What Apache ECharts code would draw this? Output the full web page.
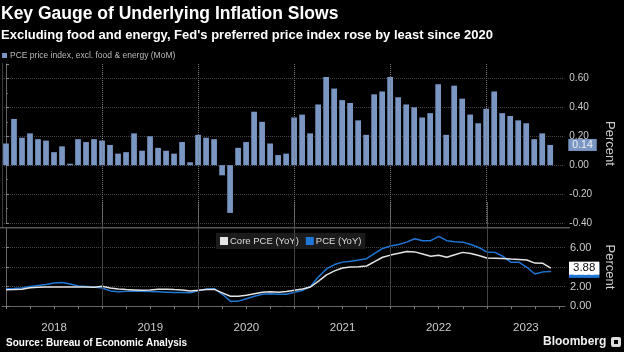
<!DOCTYPE html>
<html>
<head>
<meta charset="utf-8">
<script src="https://cdn.jsdelivr.net/npm/echarts@6/dist/echarts.min.js"></script>
<style>
  html, body { margin: 0; padding: 0; background: #000; }
  #chart { width: 624px; height: 352px; }
</style>
</head>
<body>
<div id="chart"></div>
<script>
// monthly points, Dec 2017 .. Aug 2023 (index 0 = Dec 2017)
const years = ['2018', '2019', '2020', '2021', '2022', '2023']

const coreMoM = [
  0.15, 0.32, 0.19, 0.22, 0.18, 0.17, 0.09, 0.13, 0.01, 0.18, 0.16, 0.18,
  0.17, 0.14, 0.08, 0.09, 0.22, 0.10, 0.20, 0.12, 0.10, 0.08, 0.16, 0.02,
  0.21, 0.19, 0.18, -0.07, -0.33, 0.12, 0.16, 0.37, 0.30, 0.15, 0.07, 0.08,
  0.33, 0.35, 0.22, 0.42, 0.61, 0.53, 0.45, 0.43, 0.31, 0.21, 0.49, 0.51,
  0.61, 0.47, 0.42, 0.40, 0.33, 0.36, 0.56, 0.21, 0.55, 0.46, 0.35, 0.29,
  0.39, 0.51, 0.36, 0.34, 0.31, 0.29, 0.18, 0.22, 0.14
]

const coreYoY = [
  1.67, 1.68, 1.72, 1.88, 1.92, 1.95, 1.95, 1.96, 1.96, 1.95, 1.95, 1.93, 2.02,
  1.85, 1.75, 1.68, 1.65, 1.62, 1.65, 1.72, 1.72, 1.68, 1.65, 1.55, 1.62,
  1.70, 1.70, 1.35, 1.00, 1.00, 1.10, 1.25, 1.40, 1.45, 1.42, 1.48, 1.62,
  1.75, 1.95, 2.55, 3.20, 3.60, 3.90, 4.00, 4.02, 4.10, 4.55, 5.00, 5.22,
  5.40, 5.60, 5.55, 5.33, 5.10, 5.20, 5.00, 5.25, 5.50, 5.38, 5.18, 4.92,
  4.90, 4.87, 4.82, 4.78, 4.72, 4.40, 4.38, 3.88
]

const pceYoY = [
  1.78, 1.80, 1.85, 2.00, 2.10, 2.20, 2.35, 2.40, 2.25, 2.05, 2.00, 1.95, 1.85,
  1.55, 1.45, 1.50, 1.55, 1.52, 1.48, 1.45, 1.42, 1.38, 1.38, 1.35, 1.55,
  1.75, 1.78, 1.20, 0.50, 0.50, 0.75, 1.00, 1.20, 1.25, 1.20, 1.20, 1.40,
  1.60, 2.00, 3.00, 3.80, 4.25, 4.50, 4.60, 4.72, 4.85, 5.40, 5.90, 6.15,
  6.30, 6.55, 6.90, 6.70, 6.70, 7.15, 6.70, 6.60, 6.55, 6.30, 6.00, 5.55,
  5.50, 5.10, 4.50, 4.50, 3.97, 3.28, 3.50, 3.55
]

const momName = 'PCE price index, excl. food & energy (MoM)'
const coreName = 'Core PCE (YoY)'
const pceName = 'PCE (YoY)'

// x axis runs in month steps, a little past the last point
const xMin = -0.5
const xMax = 69.76
const font = 'Liberation Sans'
const hidden = { color: 'rgba(0,0,0,0)', width: 0 }

const toPoints = arr => arr.map((v, i) => [i, v])
const yearStarts = years.slice(1).map((y, k) => (k + 1) * 12)
const yearMids = years.map((y, k) => (k * 12 + Math.min(k * 12 + 12, xMax)) / 2)
const quarterTicks = []
for (let i = 0; i <= xMax; i += 3) quarterTicks.push(i)

const valueTag = (bg, fg, size) => ({
  show: true, position: 'end', distance: 4,
  formatter: p => p.value.toFixed(2),
  backgroundColor: bg, color: fg,
  fontFamily: font, fontSize: size, padding: [1, 4, 0, 4]
})

const chart = echarts.init(document.getElementById('chart'))

const option = {
  backgroundColor: '#000',
  animation: false,
  title: [
    {
      text: 'Key Gauge of Underlying Inflation Slows',
      left: 1, top: 6, padding: 0,
      textStyle: { color: '#fff', fontFamily: font, fontWeight: 'bold', fontSize: 17.5, lineHeight: 17 }
    },
    {
      text: "Excluding food and energy, Fed's preferred price index rose by least since 2020",
      left: 1, top: 29, padding: 0,
      textStyle: { color: '#fff', fontFamily: font, fontWeight: 'bold', fontSize: 13, lineHeight: 13 }
    },
    {
      text: 'Source: Bureau of Economic Analysis',
      left: 6, top: 338, padding: 0,
      textStyle: { color: '#fff', fontFamily: font, fontWeight: 'bold', fontSize: 10, lineHeight: 10 }
    },
    {
      text: 'Bloomberg',
      left: 543, top: 335, padding: 0,
      textStyle: { color: '#eee', fontFamily: font, fontWeight: 'bold', fontSize: 12, lineHeight: 13 }
    }
  ],
  legend: [
    {
      data: [momName],
      left: 2, top: 51, padding: 0,
      icon: 'rect', itemWidth: 5, itemHeight: 5, itemGap: 3,
      textStyle: { color: '#bbb', fontFamily: font, fontSize: 8.5, padding: [0, 0, 0, -2] }
    },
    {
      data: [coreName, pceName],
      left: 216, top: 233, padding: [3, 4],
      backgroundColor: '#1b1b1b',
      icon: 'rect', itemWidth: 8, itemHeight: 8, itemGap: 7,
      textStyle: { color: '#ddd', fontFamily: font, fontSize: 9.5, padding: [0, 0, 0, -3] }
    }
  ],
  grid: [
    { left: 2, right: 54, top: 64, height: 159 },
    { left: 2, right: 54, top: 228, height: 78 }
  ],
  xAxis: [
    {
      gridIndex: 0, type: 'value', min: xMin, max: xMax,
      axisLine: { show: false }, axisTick: { show: false },
      axisLabel: { show: false }, splitLine: { show: false }
    },
    {
      gridIndex: 1, type: 'value', min: xMin, max: xMax,
      axisLine: { show: true, lineStyle: { color: '#666' } },
      axisTick: { show: true, customValues: quarterTicks, length: 3, lineStyle: { color: '#777' } },
      axisLabel: {
        customValues: yearMids,
        formatter: v => years[yearMids.indexOf(v)] || '',
        color: '#ccc', fontFamily: font, fontSize: 11.5, margin: 16
      },
      splitLine: { show: false }
    },
    {
      gridIndex: 1, type: 'value', min: xMin, max: xMax,
      axisLine: { show: false },
      axisTick: { show: true, customValues: yearStarts, length: 26, lineStyle: { color: '#555' } },
      axisLabel: { show: false }, splitLine: { show: false }
    }
  ],
  yAxis: [
    {
      gridIndex: 0, type: 'value', position: 'right',
      min: -0.4, max: 0.7, interval: 0.2,
      axisLine: { show: true, lineStyle: { color: '#666' } },
      axisTick: { show: true, length: 3, lineStyle: { color: '#888' } },
      minorTick: { show: true, splitNumber: 2, length: 2, lineStyle: { color: '#666' } },
      axisLabel: {
        color: '#ccc', fontFamily: font, fontSize: 10, margin: 5,
        showMaxLabel: false, formatter: v => v.toFixed(2)
      },
      splitLine: { showMaxLine: false, lineStyle: { color: '#444', type: 'dotted' } },
      name: 'Percent', nameLocation: 'middle', nameRotate: -90, nameGap: 38,
      nameTextStyle: { color: '#ccc', fontFamily: font, fontSize: 13 }
    },
    {
      gridIndex: 1, type: 'value', position: 'right',
      min: 0, max: 8, interval: 2,
      axisLine: { show: true, lineStyle: { color: '#666' } },
      axisTick: { show: true, length: 3, lineStyle: { color: '#888' } },
      axisLabel: {
        color: '#ccc', fontFamily: font, fontSize: 11, margin: 5,
        showMaxLabel: false, formatter: v => v.toFixed(2)
      },
      splitLine: { showMaxLine: false, lineStyle: { color: '#444', type: 'dotted' } },
      name: 'Percent', nameLocation: 'middle', nameRotate: -90, nameGap: 38,
      nameTextStyle: { color: '#ccc', fontFamily: font, fontSize: 13 }
    }
  ],
  series: [
    {
      name: momName,
      type: 'bar',
      xAxisIndex: 0, yAxisIndex: 0,
      barWidth: 5.7,
      itemStyle: { color: '#7a97c4' },
      data: toPoints(coreMoM),
      markLine: {
        silent: true, symbol: ['none', 'none'],
        label: { show: false },
        lineStyle: { color: '#777', type: 'dotted', width: 1 },
        data: [
          ...yearStarts.map(x => ({ xAxis: x })),
          {
            yAxis: coreMoM[coreMoM.length - 1],
            lineStyle: hidden,
            label: valueTag('#7a97c4', '#f2f2f2', 10.5)
          }
        ]
      }
    },
    {
      name: pceName,
      type: 'line',
      xAxisIndex: 1, yAxisIndex: 1,
      showSymbol: false,
      lineStyle: { color: '#1f76d4', width: 1.5 },
      itemStyle: { color: '#1f76d4' },
      data: toPoints(pceYoY),
      markLine: {
        silent: true, symbol: ['none', 'none'],
        label: { show: false },
        lineStyle: { color: '#444', type: 'solid', width: 1 },
        data: [
          ...yearStarts.map(x => ({ xAxis: x })),
          {
            yAxis: pceYoY[pceYoY.length - 1],
            lineStyle: hidden,
            label: valueTag('#1f76d4', '#fff', 11.5)
          }
        ]
      }
    },
    {
      name: coreName,
      type: 'line',
      xAxisIndex: 1, yAxisIndex: 1,
      showSymbol: false,
      lineStyle: { color: '#e4e4e4', width: 1.5 },
      itemStyle: { color: '#e4e4e4' },
      data: toPoints(coreYoY),
      markLine: {
        silent: true, symbol: ['none', 'none'],
        data: [
          {
            yAxis: coreYoY[coreYoY.length - 1],
            lineStyle: hidden,
            label: valueTag('#fff', '#111', 11.5)
          }
        ]
      }
    }
  ],
  graphic: [
    { type: 'rect', shape: { x: 0, y: 227, width: 570, height: 1.5 }, style: { fill: '#555' } },
    { type: 'rect', shape: { x: 2, y: 63, width: 1, height: 164 }, style: { fill: '#3a3a3a' } },
    { type: 'rect', shape: { x: 611, y: 337, width: 10, height: 10, r: 2 }, style: { fill: '#ddd' } },
    { type: 'rect', shape: { x: 614, y: 340, width: 4, height: 4 }, style: { fill: '#000' } }
  ]
}

chart.setOption(option)
</script>
</body>
</html>
